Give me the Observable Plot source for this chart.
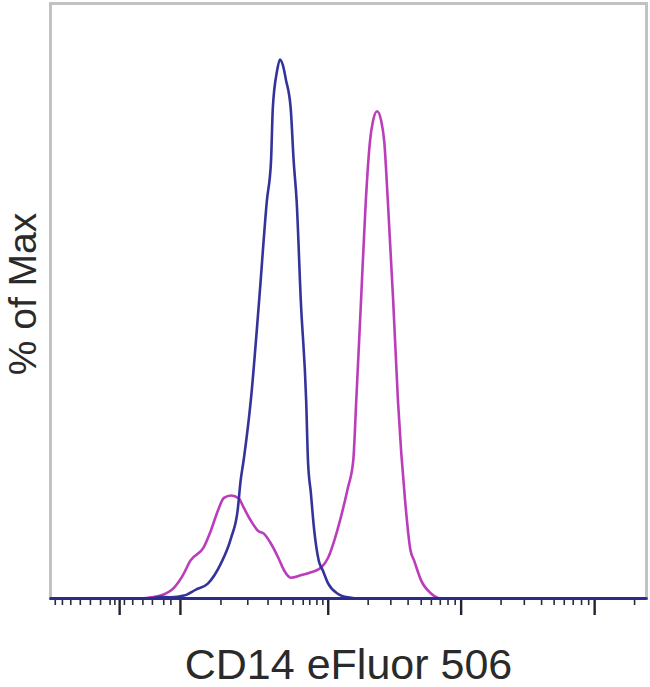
<!DOCTYPE html>
<html>
<head>
<meta charset="utf-8">
<script src="https://cdn.jsdelivr.net/npm/d3@7"></script>
<script src="https://cdn.jsdelivr.net/npm/@observablehq/plot@0.6"></script>
<style>
  html, body { margin: 0; padding: 0; background: #fff; }
</style>
</head>
<body>
<div id="chart"></div>
<script>
// Channel positions (display scale 0–1000) and % of max values
const blueX = [0, 168, 185, 202, 224, 244, 264, 286, 303, 314, 319, 324, 336, 350, 363, 370, 373, 380, 385, 390, 395, 403, 408, 413, 420, 429, 432, 437, 442, 450, 457, 466, 482, 499, 521, 1000];
const blueY = [0, 0, 0.3, 0.2, 0.5, 1.5, 2.5, 5.9, 10.2, 14.8, 19.8, 23.2, 33.2, 50.0, 66.8, 73.5, 82.4, 88.6, 90.6, 89.6, 87.2, 82.4, 73.5, 66.8, 50.0, 33.2, 23.2, 17.6, 11.9, 6.4, 4.7, 2.5, 0.8, 0.2, 0, 0];

const magentaX = [0, 151, 168, 185, 207, 222, 235, 257, 269, 281, 291, 303, 316, 324, 336, 348, 358, 370, 382, 392, 403, 420, 437, 454, 466, 476, 487, 499, 508, 513, 521, 529, 536, 541, 548, 555, 560, 566, 575, 583, 595, 604, 610, 622, 639, 655, 1000];
const magentaY = [0, 0, 0.2, 0.5, 1.8, 3.9, 6.4, 8.6, 11.4, 14.8, 16.9, 17.3, 16.8, 15.3, 13.1, 11.4, 10.9, 9.2, 6.9, 4.7, 3.5, 3.9, 4.4, 5.2, 6.9, 9.7, 13.6, 18.6, 23.2, 33.2, 50.0, 66.8, 76.8, 80.2, 81.9, 80.2, 76.8, 66.8, 50.0, 33.2, 16.4, 8.1, 6.4, 3.0, 0.8, 0, 0];

// Axis tick positions (channels)
const majorTicks = [116, 218, 466, 689, 913];
const minorTicks = [8, 20, 34, 50, 67, 84, 100, 108, 124, 138, 155, 171, 190, 202,
  286, 331, 365, 387, 407, 424, 435, 447, 457,
  533, 571, 600, 622, 639, 654, 667, 679,
  756, 795, 824, 845, 862, 877, 891, 903, 980];

const xLabel = "CD14 eFluor 506";
const yLabel = "% of Max";

const blue = blueX.map((x, i) => ({x, y: blueY[i]}));
const magenta = magentaX.map((x, i) => ({x, y: magentaY[i]}));

const font = "'Liberation Sans', Arial, Helvetica, sans-serif";

const chart = Plot.plot({
  width: 650,
  height: 687,
  marginTop: 3,
  marginRight: 4,
  marginBottom: 89,
  marginLeft: 50,
  style: {fontFamily: font, background: "#fff"},
  x: {domain: [0, 1000], axis: null},
  y: {domain: [0, 100], axis: null},
  marks: [
    Plot.frame({stroke: "#c2c2c2", strokeWidth: 3}),
    Plot.axisX({ticks: minorTicks, tickSize: 7, tickFormat: () => "", label: null, stroke: "#2a2a3a", strokeWidth: 1.6}),
    Plot.axisX({ticks: majorTicks, tickSize: 17, tickFormat: () => "", label: null, stroke: "#222230", strokeWidth: 2.4}),
    Plot.line(magenta, {x: "x", y: "y", stroke: "#bb3dbb", strokeWidth: 2.6, curve: "monotone-x"}),
    Plot.line(blue, {x: "x", y: "y", stroke: "#33339a", strokeWidth: 2.6, curve: "monotone-x"}),
    Plot.ruleY([0], {stroke: "#2c2c8c", strokeWidth: 3}),
    Plot.text([xLabel], {frameAnchor: "bottom", dy: 67, fontSize: 43, fill: "#2a2a2a", lineAnchor: "middle", textAnchor: "middle"}),
    Plot.text([yLabel], {frameAnchor: "left", dx: -27, dy: -7, rotate: -90, fontSize: 39, fill: "#2a2a2a", lineAnchor: "middle", textAnchor: "middle"})
  ]
});
document.getElementById("chart").appendChild(chart);
</script>
</body>
</html>
